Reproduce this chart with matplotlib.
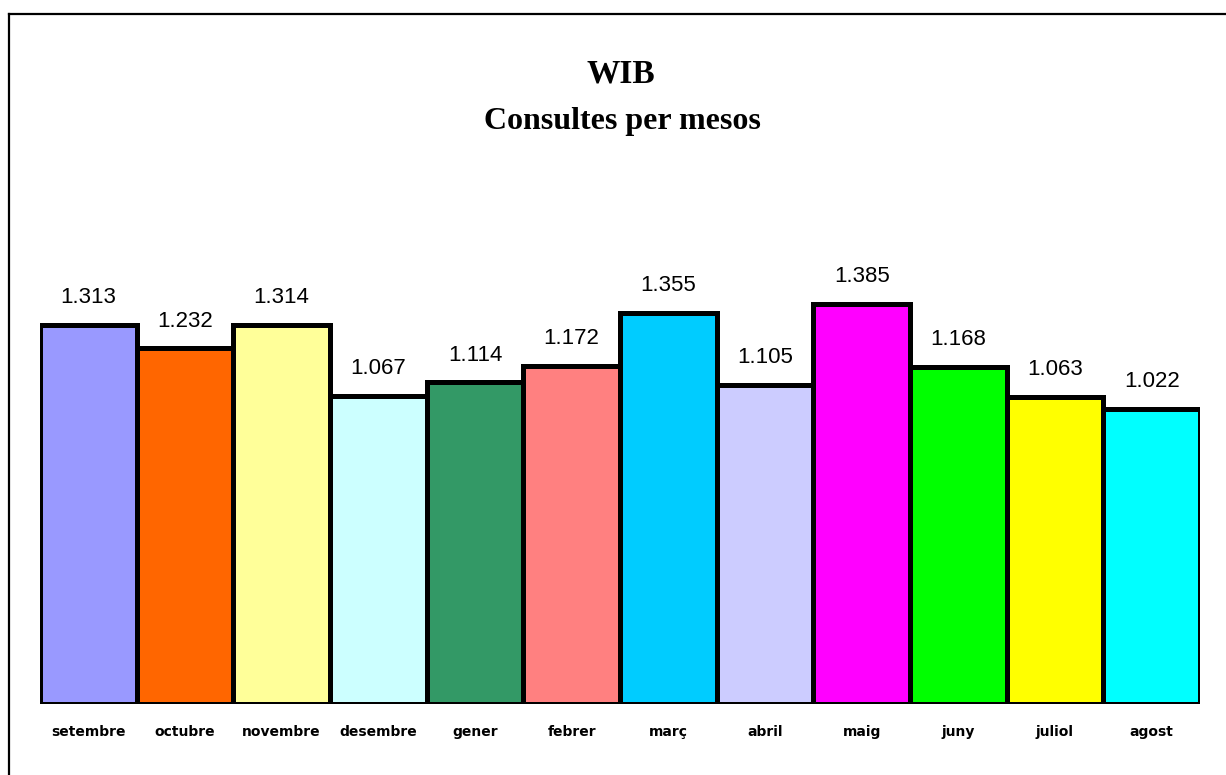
import matplotlib
matplotlib.use("Agg")
import matplotlib.pyplot as plt
from matplotlib.lines import Line2D

months = ["setembre", "octubre", "novembre", "desembre", "gener", "febrer",
          "març", "abril", "maig", "juny", "juliol", "agost"]
values = [1313, 1232, 1314, 1067, 1114, 1172, 1355, 1105, 1385, 1168, 1063, 1022]
colors = ["#9999FF", "#FF6600", "#FFFF99", "#CCFFFF", "#339966", "#FF8080",
          "#00CCFF", "#CCCCFF", "#FF00FF", "#00FF00", "#FFFF00", "#00FFFF"]
title1 = "WIB"
title2 = "Consultes per mesos"

fig = plt.figure(figsize=(12.26, 7.75), dpi=100)
ax = fig.add_axes([40/1226, 1-704/775, 1160/1226, 504/775])

x = list(range(len(months)))
bars = ax.bar(x, values, width=1.0, color=colors, edgecolor="black", linewidth=3.6)
ax.set_xlim(-0.5, len(months)-0.5)
ax.set_ylim(0, 504/0.2887)

for xi, v in zip(x, values):
    lab = f"{v:,}".replace(",", ".")
    ax.annotate(lab, (xi, v), xytext=(0, 12), textcoords="offset points",
                ha="center", va="bottom", fontsize=16, family="Liberation Sans")

ax.set_xticks(x)
ax.set_xticklabels(months, fontsize=10, fontweight="bold", family="DejaVu Sans")
ax.tick_params(axis="x", length=0, pad=15)
ax.set_yticks([])
for s in ax.spines.values():
    s.set_visible(False)

fig.text(621/1226, 1-74/775, title1, ha="center", va="center",
         fontsize=24, family="Liberation Serif", fontweight="bold")
fig.text(622/1226, 1-121/775, title2, ha="center", va="center",
         fontsize=23, family="Liberation Serif", fontweight="bold")

# frame (top and left lines)
fig.add_artist(Line2D([8.5/1226, 8.5/1226], [0, 1-14/775], transform=fig.transFigure,
                      color="black", linewidth=1.6))
fig.add_artist(Line2D([8.5/1226, 1], [1-14/775, 1-14/775], transform=fig.transFigure,
                      color="black", linewidth=1.6))

fig.savefig("out.png", dpi=100, facecolor="white")
